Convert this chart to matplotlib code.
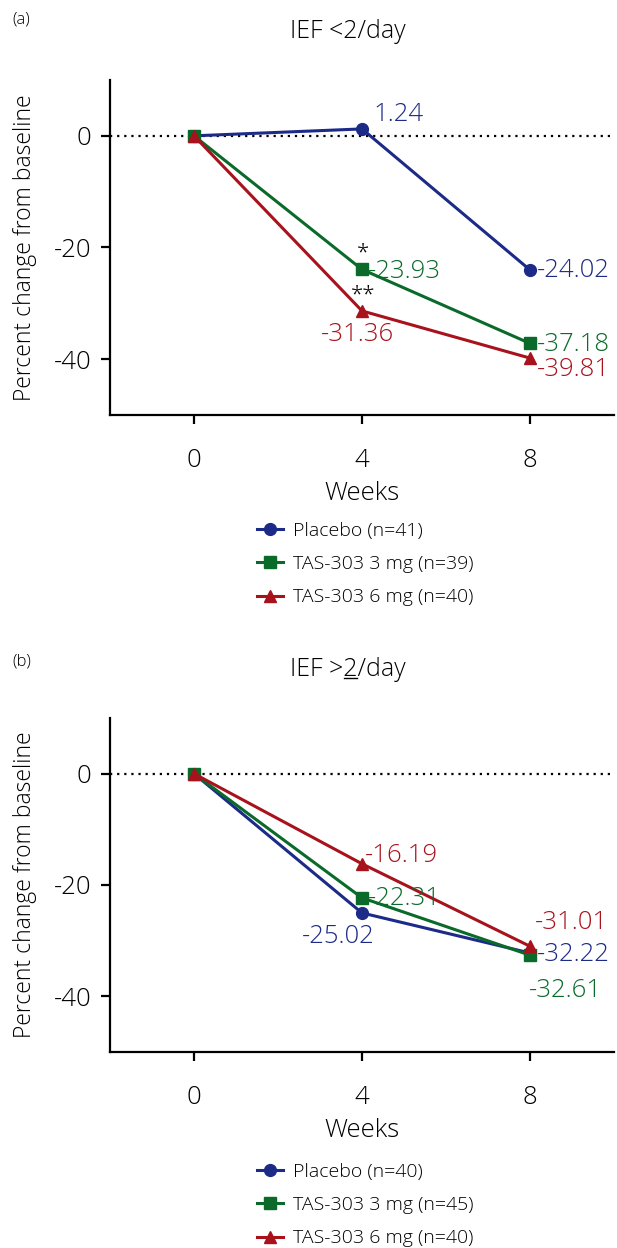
import matplotlib
matplotlib.use("Agg")
import matplotlib.pyplot as plt
from matplotlib.lines import Line2D

plt.rcParams['font.family'] = ['Open Sans', 'DejaVu Sans']
plt.rcParams['font.weight'] = 'light'
plt.rcParams['axes.labelweight'] = 'light'
plt.rcParams['axes.unicode_minus'] = False

weeks = [0, 4, 8]
week_ticks = [0, 4, 8]
y_ticks = [0, -20, -40]

series_names_a = ["Placebo (n=41)", "TAS-303 3 mg (n=39)", "TAS-303 6 mg (n=40)"]
placebo_a = [0, 1.24, -24.02]
mg3_a = [0, -23.93, -37.18]
mg6_a = [0, -31.36, -39.81]

series_names_b = ["Placebo (n=40)", "TAS-303 3 mg (n=45)", "TAS-303 6 mg (n=40)"]
placebo_b = [0, -25.02, -32.22]
mg3_b = [0, -22.31, -32.61]
mg6_b = [0, -16.19, -31.01]

BLUE = "#1c2a88"
GREEN = "#0a6a2a"
RED = "#a8121c"
colors = [BLUE, GREEN, RED]
markers = ["o", "s", "^"]
msizes = [8.5, 9, 9]

W, H = 617, 1248
fig = plt.figure(figsize=(W / 100, H / 100), dpi=100)

FS_DATA = 18.5
FS_TICK = 18.5


def px_axes(left, top, right, bottom):
    return fig.add_axes([left / W, 1 - bottom / H, (right - left) / W, (bottom - top) / H])


def setup(ax):
    ax.set_xlim(-2, 10)
    ax.set_ylim(-50, 10)
    ax.axhline(0, color="black", ls=(0, (1, 2.2)), lw=1.6, zorder=1)
    for s in ["top", "right"]:
        ax.spines[s].set_visible(False)
    for s in ["left", "bottom"]:
        ax.spines[s].set_linewidth(1.6)
    ax.set_xticks(week_ticks)
    ax.set_yticks(y_ticks)
    ax.tick_params(axis="both", length=6.5, width=1.6, labelsize=FS_TICK)
    ax.tick_params(axis="y", pad=7)
    ax.tick_params(axis="x", pad=17)
    ax.set_xlabel("Weeks", fontsize=18.5, labelpad=6)
    ax.set_ylabel("Percent change from baseline", fontsize=16.5, labelpad=12)


def plot_series(ax, data):
    handles = []
    for vals, c, m, ms in zip(data, colors, markers, msizes):
        h, = ax.plot(weeks, vals, color=c, lw=2.2, marker=m, markersize=ms, zorder=3)
        handles.append(h)
    return handles


def lab(ax, x, y, text, color, dx, dy, ha="left", va="center", fs=FS_DATA):
    ax.annotate(text, (x, y), xytext=(dx, dy), textcoords="offset pixels",
                ha=ha, va=va, color=color, fontsize=fs, zorder=5)


# Panel (a)
ax1 = px_axes(110, 80, 614, 415)
setup(ax1)
h1 = plot_series(ax1, [placebo_a, mg3_a, mg6_a])
lab(ax1, weeks[1], placebo_a[1], f"{placebo_a[1]:.2f}", BLUE, 11, 14)
lab(ax1, weeks[1], mg3_a[1], f"{mg3_a[1]:.2f}", GREEN, 6, -2)
lab(ax1, weeks[1], mg3_a[1], "*", "black", 1, 16, ha="center", fs=16)
lab(ax1, weeks[1], mg6_a[1], "**", "black", 1, 16, ha="center", fs=16)
lab(ax1, weeks[1], mg6_a[1], f"{mg6_a[1]:.2f}", RED, -4, -24, ha="center")
lab(ax1, weeks[2], placebo_a[2], f"{placebo_a[2]:.2f}", BLUE, 7, -1)
lab(ax1, weeks[2], mg3_a[2], f"{mg3_a[2]:.2f}", GREEN, 7, -1)
lab(ax1, weeks[2], mg6_a[2], f"{mg6_a[2]:.2f}", RED, 7, -11)
fig.text(348 / W, 1 - 31 / H, "IEF <2/day", ha="center", va="center", fontsize=18)
fig.text(12 / W, 1 - 19 / H, "(a)", ha="left", va="center", fontsize=12)
fig.legend(h1, series_names_a, loc="upper left", bbox_to_anchor=(257 / W, 1 - 522 / H),
           frameon=False, fontsize=14, handlelength=1.35, handletextpad=0.5,
           labelspacing=0.78, borderaxespad=0, borderpad=0)

# Panel (b)
ax2 = px_axes(110, 718, 614, 1052)
setup(ax2)
h2 = plot_series(ax2, [placebo_b, mg3_b, mg6_b])
lab(ax2, weeks[1], mg6_b[1], f"{mg6_b[1]:.2f}", RED, 3, 8)
lab(ax2, weeks[1], mg3_b[1], f"{mg3_b[1]:.2f}", GREEN, 6, -1)
lab(ax2, weeks[1], placebo_b[1], f"{placebo_b[1]:.2f}", BLUE, -24, -24, ha="center")
lab(ax2, weeks[2], mg6_b[2], f"{mg6_b[2]:.2f}", RED, 41, 24, ha="center")
lab(ax2, weeks[2], placebo_b[2], f"{placebo_b[2]:.2f}", BLUE, 7, -1)
lab(ax2, weeks[2], mg3_b[2], f"{mg3_b[2]:.2f}", GREEN, 35, -35, ha="center")
tb = fig.text(348 / W, 1 - 669 / H, "IEF >2/day", ha="center", va="center", fontsize=18)
fig.text(12 / W, 1 - 662 / H, "(b)", ha="left", va="center", fontsize=12)
fig.legend(h2, series_names_b, loc="upper left", bbox_to_anchor=(257 / W, 1 - 1163 / H),
           frameon=False, fontsize=14, handlelength=1.35, handletextpad=0.5,
           labelspacing=0.78, borderaxespad=0, borderpad=0)

# underline the "2" in the panel (b) title
fig.canvas.draw()
r = fig.canvas.get_renderer()
full = tb.get_window_extent(r)
t1 = fig.text(0, 0, "IEF >", fontsize=18)
t2 = fig.text(0, 0, "IEF >2", fontsize=18)
w1 = t1.get_window_extent(r).width
w2 = t2.get_window_extent(r).width
t1.remove(); t2.remove()
x0 = full.x0 + w1 + 1
x1 = full.x0 + w2 - 1
yline = full.y0 + 4
fig.add_artist(Line2D([x0 / W, x1 / W], [yline / H, yline / H], transform=fig.transFigure,
                      color="black", lw=1.0))

fig.savefig("out.png", dpi=100)
